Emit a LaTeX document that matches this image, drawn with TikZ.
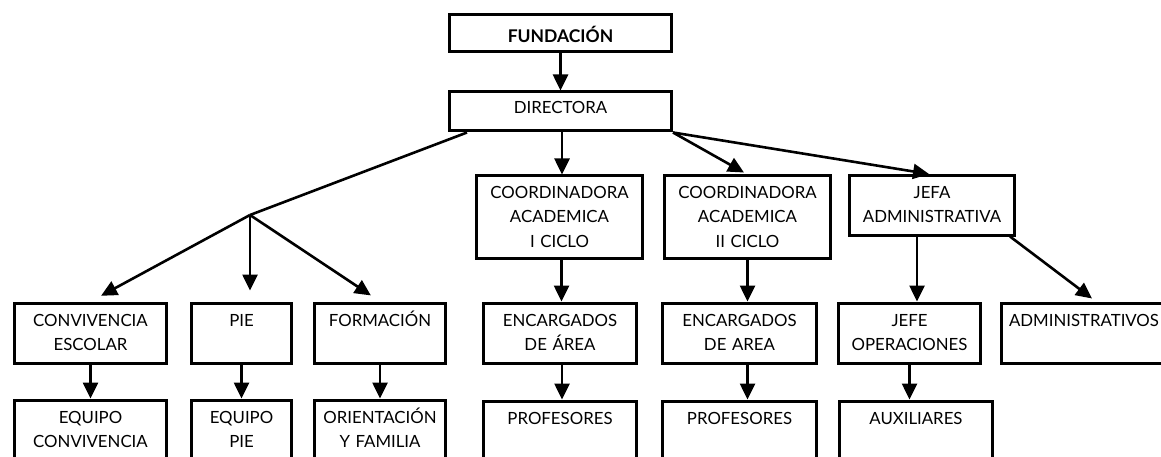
\documentclass[tikz,border=0pt]{standalone}
\usepackage{fontspec}
\setmainfont{Lato}
\usetikzlibrary{arrows.meta,calc}

\begin{document}
\begin{tikzpicture}[x=1pt,y=-1pt,
		caja/.style={draw, line width=3pt, align=center, anchor=north, inner sep=0pt,
			text height=23pt, text depth=37pt, font=\fontsize{16.8}{24}\selectfont},
		linea/.style={line width=2.6pt},
		flecha/.style={line width=2.6pt, -{Triangle[length=16pt,width=15pt]}}]
	\path[use as bounding box, clip] (0,0) rectangle (1161,457);
	% cabecera
	\node[caja, text width=222pt, text height=28pt, text depth=9pt] (fund) at (560.5,13.5) {\fontsize{17.5}{24}\selectfont\bfseries FUNDACIÓN};
	\node[caja, text width=222pt, text height=22pt, text depth=17pt] (dir) at (560.5,90.5) {DIRECTORA};
	% segundo nivel
	\node[caja, text width=166pt, text depth=59pt] (coordI) at (559.5,174.5) {COORDINADORA\\ACADEMICA\\I CICLO};
	\node[caja, text width=166pt, text depth=59pt] (coordII) at (747.5,174.5) {COORDINADORA\\ACADEMICA\\II CICLO};
	\node[caja, text width=165pt, text depth=36pt] (jefa) at (932,174.5) {JEFA\\ADMINISTRATIVA};
	% tercer nivel
	\node[caja, text width=152pt] (conv) at (90.5,301.5) {CONVIVENCIA\\ESCOLAR};
	\node[caja, text width=100pt] (pie) at (241.5,301.5) {PIE};
	\node[caja, text width=131pt] (form) at (380,301.5) {FORMACIÓN};
	\node[caja, text width=153pt] (encI) at (560,301.5) {ENCARGADOS\\DE ÁREA};
	\node[caja, text width=154pt] (encII) at (739.5,301.5) {ENCARGADOS\\DE AREA};
	\node[caja, text width=142pt] (jefe) at (909.5,301.5) {JEFE\\OPERACIONES};
	\node[caja, text width=165pt] (admin) at (1084,301.5) {ADMINISTRATIVOS};
	% cuarto nivel
	\node[caja, text width=152pt, text depth=60pt] (eqconv) at (90.5,398.5) {EQUIPO\\CONVIVENCIA};
	\node[caja, text width=100pt, text depth=60pt] (eqpie) at (241.5,398.5) {EQUIPO\\PIE};
	\node[caja, text width=131pt, text depth=60pt] (orient) at (380,398.5) {ORIENTACIÓN\\Y FAMILIA};
	\node[caja, text width=153pt, text depth=60pt] (profI) at (560,399.5) {PROFESORES};
	\node[caja, text width=154pt, text depth=60pt] (profII) at (739.5,399.5) {PROFESORES};
	\node[caja, text width=153pt, text depth=60pt] (aux) at (916,399.5) {AUXILIARES};
	% conectores
	\coordinate (rama) at (250,215);
	\draw[flecha] (fund) -- (dir);
	\draw[linea] ([xshift=19pt]dir.south west) -- (rama);
	\draw[flecha, shorten >=12pt] (rama) -- (conv.north);
	\draw[flecha, shorten >=11pt] (rama) -- (rama |- pie.north);
	\draw[flecha, shorten >=11pt] (rama) -- (form.north);
	\draw[flecha] ([xshift=1.5pt]dir.south) -- ([xshift=1.5pt]dir.south |- coordI.north);
	\draw[flecha, shorten >=4pt] (dir.south east) -- (coordII.north);
	\draw[flecha, shorten >=3pt] (dir.south east) -- (jefa.north);
	\draw[flecha] ([xshift=2pt]coordI.south) -- ([xshift=2pt]coordI.south |- encI.north);
	\draw[flecha] ([xshift=2pt]encI.south) -- ([xshift=2pt]encI.south |- profI.north);
	\draw[flecha] (coordII.south) -- (coordII.south |- encII.north);
	\draw[flecha] (coordII.south |- encII.south) -- (coordII.south |- profII.north);
	\draw[flecha] ([xshift=-15pt]jefa.south) -- ([xshift=-15pt]jefa.south |- jefe.north);
	\draw[flecha, shorten >=5pt] ([xshift=-6pt]jefa.south east) -- ([xshift=12pt]admin.north);
	\draw[flecha] (jefe.south) -- (jefe.south |- aux.north);
	\draw[flecha] (conv) -- (eqconv);
	\draw[flecha] (pie) -- (eqpie);
	\draw[flecha] (form) -- (orient);
\end{tikzpicture}
\end{document}
